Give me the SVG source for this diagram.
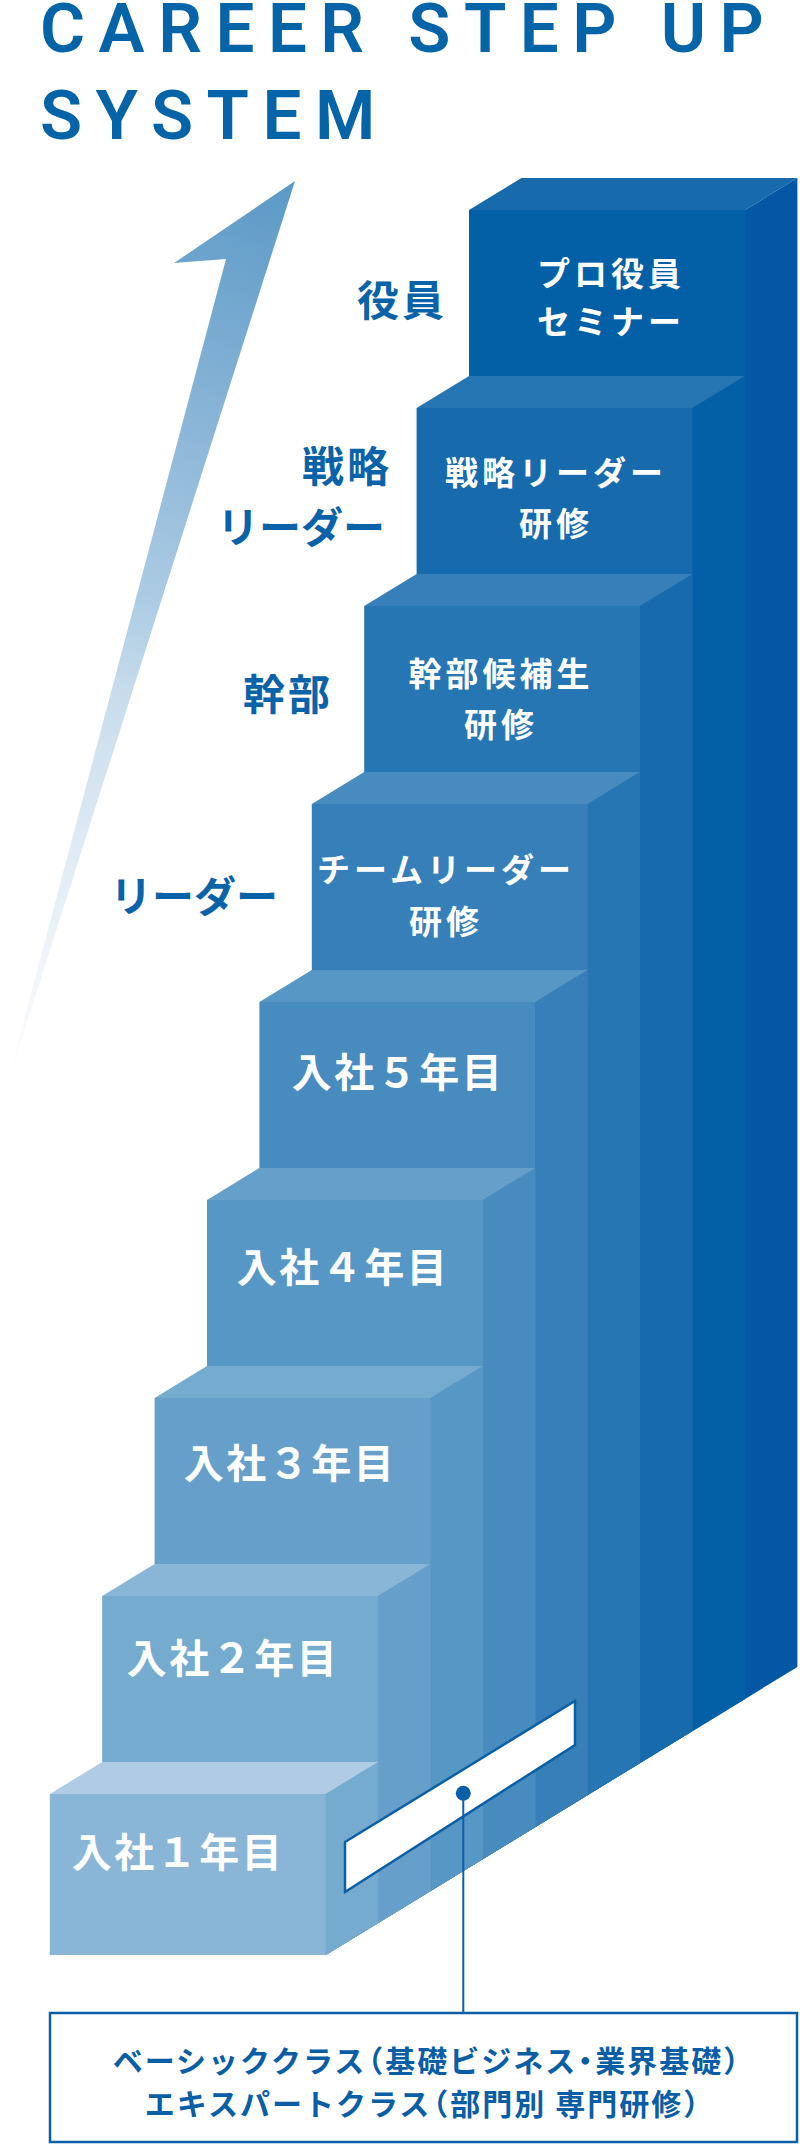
<svg xmlns="http://www.w3.org/2000/svg" width="800" height="2144" viewBox="0 0 800 2144">
<style>
.title{font-family:Roboto,"Liberation Sans",sans-serif;font-weight:600;font-size:69px;letter-spacing:13.5px;fill:#0563A7}
.lbl{font-family:"Noto Sans CJK JP",sans-serif;font-weight:700;font-size:42px;fill:#0A63A8;text-anchor:end;dominant-baseline:central}
.st{font-family:"Noto Sans CJK JP",sans-serif;font-weight:700;font-size:33px;fill:#fff;text-anchor:middle;dominant-baseline:central;letter-spacing:4px}
.yr{font-family:"Noto Sans CJK JP",sans-serif;font-weight:700;font-size:40px;fill:#fff;text-anchor:middle;dominant-baseline:central;letter-spacing:2.5px}
.note{font-family:"Noto Sans CJK JP",sans-serif;font-weight:700;font-size:30px;fill:#0A5EA6;text-anchor:middle;dominant-baseline:central;letter-spacing:2px}
.p0{fill:#AFCCE4}.p1{fill:#89B5D7}.p2{fill:#76ABD0}.p3{fill:#679FCB}.p4{fill:#5797C5}.p5{fill:#478BBF}.p6{fill:#367FB9}.p7{fill:#2676B3}.p8{fill:#176AAC}.p9{fill:#0460A6}.p10{fill:#0457A5}
</style>
<defs>
<linearGradient id="arrowGrad" gradientUnits="userSpaceOnUse" x1="295" y1="181" x2="6" y2="1088">
<stop offset="0" stop-color="#5A99C6"/>
<stop offset="0.3" stop-color="#8FB8D9"/>
<stop offset="0.46" stop-color="#ABCBE3"/>
<stop offset="0.57" stop-color="#C8DCEC"/>
<stop offset="0.79" stop-color="#E6EFF7"/>
<stop offset="1" stop-color="#FFFFFF"/>
</linearGradient>
<clipPath id="stairClip">
<polygon points="0,0 800,0 800,1665 797.4,1667 325.8,1955 0,1955"/>
</clipPath>
</defs>

<g id="title">
<text class="title" x="40" y="52">CAREER STEP UP</text>
<text class="title" x="40" y="139">SYSTEM</text>
</g>

<g id="arrow">
<polygon points="295,181 174,263 226,259 6,1088" fill="url(#arrowGrad)"/>
</g>

<g id="stairs" clip-path="url(#stairClip)">
<g id="step-yakuin">
<rect class="p9" x="469" y="210" width="276" height="1750"/>
<polygon class="p8" points="469,210 745,210 797.4,178 521.4,178"/>
<polygon class="p10" points="745,210 797.4,178 797.4,1960 745,1960"/>
</g>
<g id="step-senryaku">
<rect class="p8" x="416.6" y="408" width="276" height="1552"/>
<polygon class="p7" points="416.6,408 692.6,408 745,376 469,376"/>
<polygon class="p9" points="692.6,408 745,376 745,1960 692.6,1960"/>
</g>
<g id="step-kanbu">
<rect class="p7" x="364.2" y="606" width="276" height="1354"/>
<polygon class="p6" points="364.2,606 640.2,606 692.6,574 416.6,574"/>
<polygon class="p8" points="640.2,606 692.6,574 692.6,1960 640.2,1960"/>
</g>
<g id="step-leader">
<rect class="p6" x="311.8" y="804" width="276" height="1156"/>
<polygon class="p5" points="311.8,804 587.8,804 640.2,772 364.2,772"/>
<polygon class="p7" points="587.8,804 640.2,772 640.2,1960 587.8,1960"/>
</g>
<g id="step-year5">
<rect class="p5" x="259.4" y="1002" width="276" height="958"/>
<polygon class="p4" points="259.4,1002 535.4,1002 587.8,970 311.8,970"/>
<polygon class="p6" points="535.4,1002 587.8,970 587.8,1960 535.4,1960"/>
</g>
<g id="step-year4">
<rect class="p4" x="207" y="1200" width="276" height="760"/>
<polygon class="p3" points="207,1200 483,1200 535.4,1168 259.4,1168"/>
<polygon class="p5" points="483,1200 535.4,1168 535.4,1960 483,1960"/>
</g>
<g id="step-year3">
<rect class="p3" x="154.6" y="1398" width="276" height="562"/>
<polygon class="p2" points="154.6,1398 430.6,1398 483,1366 207,1366"/>
<polygon class="p4" points="430.6,1398 483,1366 483,1960 430.6,1960"/>
</g>
<g id="step-year2">
<rect class="p2" x="102.2" y="1596" width="276" height="364"/>
<polygon class="p1" points="102.2,1596 378.2,1596 430.6,1564 154.6,1564"/>
<polygon class="p3" points="378.2,1596 430.6,1564 430.6,1960 378.2,1960"/>
</g>
<g id="step-year1">
<rect class="p1" x="49.8" y="1794" width="276" height="166"/>
<polygon class="p0" points="49.8,1794 325.8,1794 378.2,1762 102.2,1762"/>
<polygon class="p2" points="325.8,1794 378.2,1762 378.2,1960 325.8,1960"/>
</g>
</g>

<g id="step-texts">
<text class="st" x="611" y="272">プロ役員</text>
<text class="st" x="611" y="320">セミナー</text>
<text class="st" x="556" y="471">戦略リーダー</text>
<text class="st" x="556" y="522">研修</text>
<text class="st" x="501" y="672">幹部候補生</text>
<text class="st" x="501" y="723">研修</text>
<text class="st" x="446" y="868">チームリーダー</text>
<text class="st" x="446" y="920">研修</text>
<text class="yr" x="398" y="1070">入社５年目</text>
<text class="yr" x="343" y="1265">入社４年目</text>
<text class="yr" x="290" y="1461">入社３年目</text>
<text class="yr" x="233" y="1656">入社２年目</text>
<text class="yr" x="178" y="1850">入社１年目</text>
</g>

<g id="level-labels">
<text class="lbl" x="447" y="297" style="letter-spacing:3px">役員</text>
<text class="lbl" x="392" y="463" style="letter-spacing:3px">戦略</text>
<text class="lbl" x="385" y="524">リーダー</text>
<text class="lbl" x="333" y="691" style="letter-spacing:3px">幹部</text>
<text class="lbl" x="278" y="893">リーダー</text>
</g>

<g id="callout-band">
<polygon points="345,1842 575,1701 575,1745 345,1892" fill="#fff" stroke="#0A5FA6" stroke-width="2.5" stroke-linejoin="miter"/>
</g>

<g id="connectors">
<line x1="463.3" y1="1793" x2="463.3" y2="2013" stroke="#0A5FA6" stroke-width="2"/>
<circle cx="463.3" cy="1793.3" r="7.5" fill="#0A5FA6"/>
</g>

<g id="callout-box">
<rect x="50" y="2013" width="747" height="129" fill="#fff" stroke="#0A5FA6" stroke-width="2.5"/>
<text class="note" x="434" y="2059" dx="0 0 0 0 0 0 0 0 -13 0 0 0 0 0 0 -7 -7">ベーシッククラス（基礎ビジネス・業界基礎）</text>
<text class="note" x="430" y="2102" dx="0 0 0 0 0 0 0 0 0 -13">エキスパートクラス（部門別 専門研修）</text>
</g>
</svg>
